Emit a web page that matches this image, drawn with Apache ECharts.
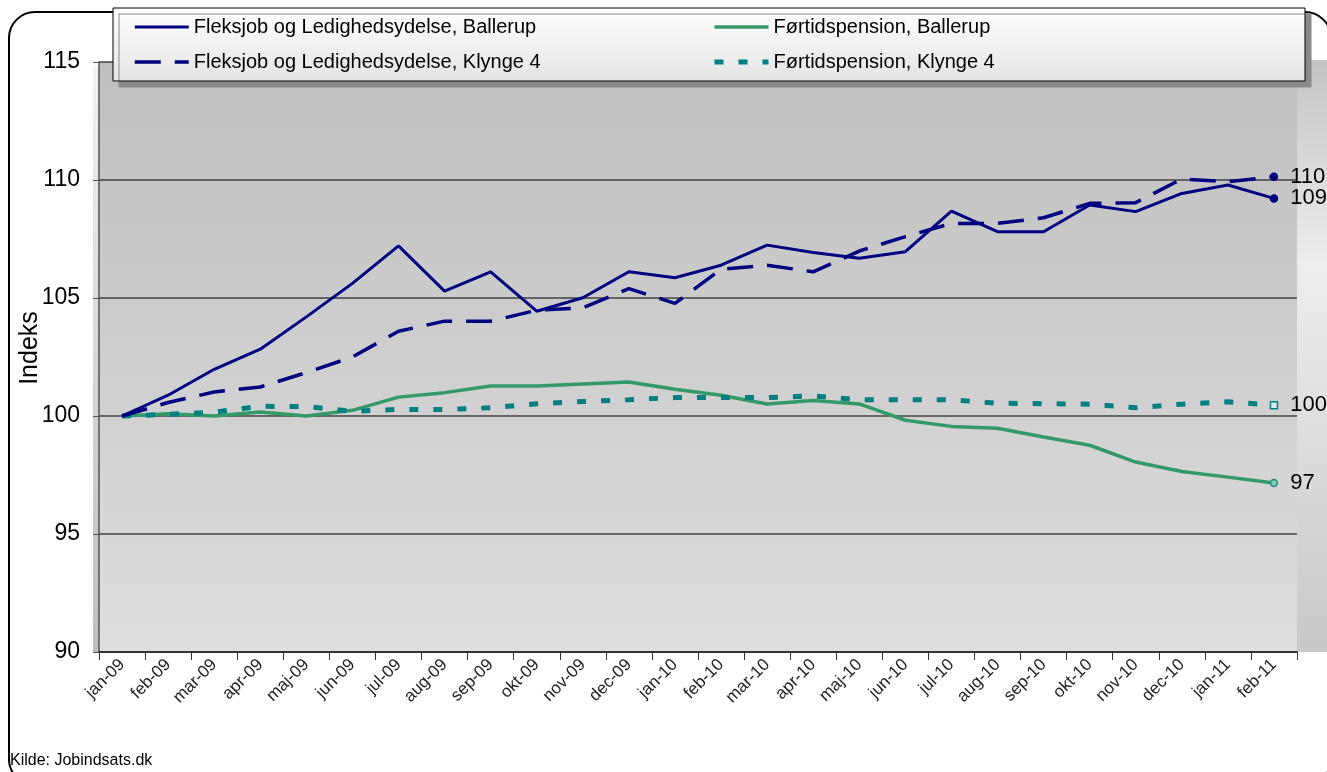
<!DOCTYPE html>
<html>
<head>
<meta charset="utf-8">
<script src="https://cdn.jsdelivr.net/npm/echarts@6/dist/echarts.min.js"></script>
<style>
  html, body { margin: 0; padding: 0; background: #fff; }
  #chart { width: 1327px; height: 772px; }
</style>
</head>
<body>
<div id="chart"></div>
<script>
const months = ["jan-09", "feb-09", "mar-09", "apr-09", "maj-09", "jun-09", "jul-09", "aug-09", "sep-09", "okt-09", "nov-09", "dec-09",
  "jan-10", "feb-10", "mar-10", "apr-10", "maj-10", "jun-10", "jul-10", "aug-10", "sep-10", "okt-10", "nov-10", "dec-10",
  "jan-11", "feb-11"];

const fleksBallerup = [100, 100.88, 101.98, 102.83, 104.2, 105.62, 107.21, 105.29, 106.11, 104.44, 105.01, 106.11, 105.86,
  106.39, 107.24, 106.93, 106.68, 106.96, 108.68, 107.81, 107.81, 108.94, 108.66, 109.43, 109.79, 109.22];
const fleksKlynge = [100, 100.57, 101.02, 101.23, 101.84, 102.5, 103.59, 104.02, 104.02, 104.48, 104.58, 105.4, 104.77,
  106.22, 106.39, 106.11, 106.99, 107.6, 108.16, 108.16, 108.4, 109.01, 109.04, 110.04, 109.93, 110.14];
const fortidBallerup = [100, 100.1, 100.0, 100.17, 100.0, 100.24, 100.8, 100.99, 101.27, 101.27, 101.36, 101.44, 101.13,
  100.88, 100.51, 100.66, 100.51, 99.82, 99.56, 99.48, 99.11, 98.76, 98.05, 97.65, 97.41, 97.16];
const fortidKlynge = [100, 100.07, 100.16, 100.41, 100.4, 100.2, 100.28, 100.27, 100.35, 100.52, 100.61, 100.69, 100.78,
  100.78, 100.78, 100.85, 100.69, 100.69, 100.69, 100.54, 100.52, 100.5, 100.35, 100.5, 100.6, 100.46];

const seriesNames = ["Fleksjob og Ledighedsydelse, Ballerup", "Fleksjob og Ledighedsydelse, Klynge 4",
  "Førtidspension, Ballerup", "Førtidspension, Klynge 4"];

const font = "'Liberation Sans', Arial, sans-serif";

// only the last point gets a marker and a value label
function withEndMark(values, symbol, color, fill) {
  return values.map((v, i) => {
    if (i !== values.length - 1) return v;
    return {
      value: v,
      symbol: symbol,
      symbolSize: 7,
      itemStyle: { color: fill, borderColor: color, borderWidth: 1.5 },
      label: {
        show: true,
        position: "right",
        distance: 12,
        color: "#000",
        fontSize: 22,
        fontFamily: font,
        formatter: p => Math.round(p.value)
      }
    };
  });
}

const legendBase = {
  orient: "vertical",
  top: 12,
  itemWidth: 54,
  itemHeight: 14,
  itemGap: 15,
  textStyle: { fontSize: 20, color: "#000", fontFamily: font },
  itemStyle: { opacity: 0 },
  lineStyle: { width: "inherit", type: "inherit" },
  z: 5
};

const option = {
  animation: false,
  backgroundColor: "#fff",
  grid: {
    left: 99,
    right: 30,
    top: 62,
    bottom: 120,
    show: true,
    borderWidth: 0,
    backgroundColor: {
      type: "linear", x: 0, y: 0, x2: 0, y2: 1,
      colorStops: [{ offset: 0, color: "#bfbfbf" }, { offset: 1, color: "#dedede" }]
    }
  },
  legend: [
    Object.assign({}, legendBase, { data: [seriesNames[0], seriesNames[1]], left: 128 }),
    Object.assign({}, legendBase, { data: [seriesNames[2], seriesNames[3]], left: 707 })
  ],
  xAxis: {
    type: "category",
    data: months,
    boundaryGap: true,
    axisLine: { lineStyle: { color: "#333", width: 2 } },
    axisTick: { show: true, length: 8, lineStyle: { color: "#333", width: 1 } },
    axisLabel: {
      interval: 0,
      rotate: 45,
      margin: 10,
      color: "#222",
      fontSize: 17,
      fontFamily: font
    },
    splitLine: { show: false }
  },
  yAxis: {
    type: "value",
    min: 90,
    max: 115,
    interval: 5,
    name: "Indeks",
    nameLocation: "middle",
    nameGap: 56,
    nameMoveOverlap: false,
    nameTextStyle: { fontSize: 25, color: "#000", fontFamily: font, padding: [0, 0, 0, 18] },
    axisLine: { show: true, lineStyle: { color: "#555", width: 1.5 } },
    axisTick: { show: true, length: 6, lineStyle: { color: "#555" } },
    axisLabel: { color: "#000", fontSize: 23, fontFamily: font, margin: 19 },
    splitLine: { lineStyle: { color: "#404040", width: 1.5 } }
  },
  series: [
    {
      name: seriesNames[0],
      type: "line",
      symbol: "none",
      data: withEndMark(fleksBallerup, "circle", "#000080", "#000080"),
      lineStyle: { color: "#000080", width: 3 },
      itemStyle: { color: "#000080" },
      z: 4
    },
    {
      name: seriesNames[1],
      type: "line",
      symbol: "none",
      data: withEndMark(fleksKlynge, "circle", "#000080", "#000080"),
      lineStyle: { color: "#000080", width: 3.5, type: [26, 14] },
      itemStyle: { color: "#000080" },
      z: 4
    },
    {
      name: seriesNames[2],
      type: "line",
      symbol: "none",
      data: withEndMark(fortidBallerup, "circle", "#1f8f86", "#7fc8b0"),
      lineStyle: { color: "#339966", width: 3.5 },
      itemStyle: { color: "#339966" },
      z: 3
    },
    {
      name: seriesNames[3],
      type: "line",
      symbol: "none",
      data: withEndMark(fortidKlynge, "rect", "#008080", "#d8ecec"),
      lineStyle: { color: "#008080", width: 5, type: [9, 15] },
      itemStyle: { color: "#008080" },
      z: 3
    }
  ],
  graphic: [
    {
      // 3d wall strip right of the plot
      type: "rect",
      shape: { x: 1297, y: 60, width: 30, height: 592 },
      style: {
        fill: {
          type: "linear", x: 0, y: 0, x2: 0, y2: 1,
          colorStops: [{ offset: 0, color: "#c4c4c4" }, { offset: 0.35, color: "#eeeeee" }, { offset: 1, color: "#c8c8c8" }]
        }
      },
      z: 0
    },
    {
      // wall strip left of the y axis
      type: "rect",
      shape: { x: 93, y: 66, width: 6, height: 586 },
      style: {
        fill: {
          type: "linear", x: 0, y: 0, x2: 0, y2: 1,
          colorStops: [{ offset: 0, color: "#f2f2f2" }, { offset: 1, color: "#bdbdbd" }]
        }
      },
      z: 0
    },
    {
      // rounded outer frame, runs behind the legend box
      type: "rect",
      shape: { x: 9, y: 12, width: 1322, height: 773, r: 26 },
      style: { fill: "none", stroke: "#000", lineWidth: 2 },
      z: 3
    },
    {
      // legend box with shadow
      type: "rect",
      shape: { x: 113, y: 8, width: 1192, height: 73 },
      style: {
        fill: {
          type: "linear", x: 0, y: 0, x2: 0, y2: 1,
          colorStops: [{ offset: 0, color: "#ffffff" }, { offset: 1, color: "#e4e4e4" }]
        },
        stroke: "#000",
        lineWidth: 1,
        shadowColor: "#8a8a8a",
        shadowOffsetX: 6,
        shadowOffsetY: 6,
        shadowBlur: 0
      },
      z: 4
    },
    {
      type: "text",
      left: 10,
      top: 753,
      style: { text: "Kilde: Jobindsats.dk", font: "16px " + font, fill: "#000" },
      z: 6
    }
  ]
};

const chartObj = echarts.init(document.getElementById("chart"));
chartObj.setOption(option);
window.addEventListener("resize", function() {
  chartObj.resize();
});
</script>
</body>
</html>
